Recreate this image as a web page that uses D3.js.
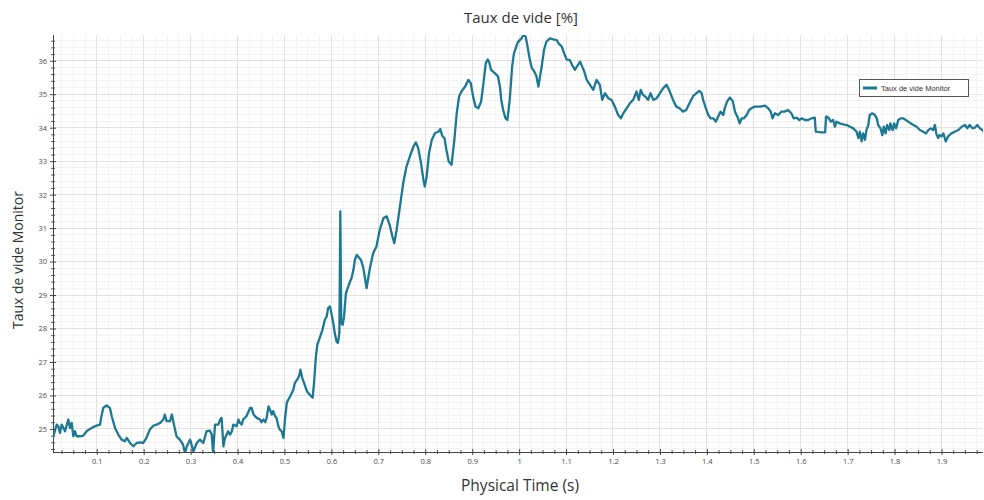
<!DOCTYPE html>
<html>
<head>
<meta charset="utf-8">
<script src="https://cdn.jsdelivr.net/npm/d3@7"></script>
<style>
  body { margin: 0; background: #fff; }
  svg { display: block; }
</style>
</head>
<body>
<svg id="chart" width="984" height="500"></svg>
<script>
// Monitored void fraction (%) against physical time (s)
const times = [
  0.007, 0.0147, 0.0182, 0.0217, 0.0253, 0.0324, 0.0395, 0.0430, 0.0466, 0.0501,
  0.0537, 0.0572, 0.0643, 0.0714, 0.0785, 0.0856, 0.0928, 0.0999, 0.107, 0.110,
  0.114, 0.121, 0.128, 0.132, 0.139, 0.146, 0.153, 0.160, 0.164, 0.171,
  0.178, 0.185, 0.192, 0.199, 0.206, 0.213, 0.221, 0.228, 0.235, 0.242,
  0.245, 0.249, 0.256, 0.260, 0.263, 0.270, 0.277, 0.284, 0.288, 0.292,
  0.299, 0.306, 0.313, 0.320, 0.327, 0.334, 0.341, 0.345, 0.348, 0.352,
  0.359, 0.363, 0.366, 0.370, 0.373, 0.377, 0.380, 0.384, 0.388, 0.391,
  0.398, 0.402, 0.405, 0.409, 0.412, 0.419, 0.427, 0.430, 0.434, 0.441,
  0.448, 0.451, 0.455, 0.459, 0.462, 0.466, 0.469, 0.473, 0.476, 0.480,
  0.483, 0.487, 0.490, 0.494, 0.498, 0.501, 0.505, 0.508, 0.512, 0.519,
  0.522, 0.527, 0.531, 0.534, 0.538, 0.543, 0.548, 0.554, 0.560, 0.563,
  0.567, 0.570, 0.576, 0.581, 0.586, 0.590, 0.593, 0.597, 0.600, 0.604,
  0.607, 0.611, 0.614, 0.617, 0.619, 0.621, 0.624, 0.627, 0.631, 0.636,
  0.640, 0.643, 0.647, 0.650, 0.654, 0.657, 0.660, 0.663, 0.668, 0.675,
  0.682, 0.689, 0.696, 0.703, 0.711, 0.718, 0.725, 0.730, 0.734, 0.739,
  0.746, 0.753, 0.760, 0.767, 0.775, 0.780, 0.785, 0.791, 0.796, 0.799,
  0.803, 0.808, 0.814, 0.821, 0.828, 0.832, 0.836, 0.841, 0.845, 0.850,
  0.856, 0.862, 0.867, 0.872, 0.877, 0.885, 0.892, 0.897, 0.902, 0.907,
  0.913, 0.919, 0.924, 0.929, 0.933, 0.936, 0.940, 0.945, 0.952, 0.955,
  0.959, 0.962, 0.966, 0.971, 0.975, 0.980, 0.985, 0.989, 0.997, 1.005,
  1.009, 1.014, 1.018, 1.023, 1.027, 1.030, 1.034, 1.037, 1.041, 1.044,
  1.048, 1.053, 1.058, 1.066, 1.073, 1.080, 1.084, 1.091, 1.096, 1.101,
  1.108, 1.113, 1.119, 1.125, 1.130, 1.133, 1.139, 1.144, 1.151, 1.158,
  1.165, 1.172, 1.177, 1.183, 1.190, 1.197, 1.204, 1.211, 1.217, 1.222,
  1.229, 1.236, 1.243, 1.250, 1.255, 1.259, 1.264, 1.269, 1.275, 1.280,
  1.286, 1.293, 1.300, 1.307, 1.314, 1.321, 1.328, 1.335, 1.342, 1.349,
  1.356, 1.363, 1.371, 1.378, 1.384, 1.389, 1.392, 1.398, 1.403, 1.408,
  1.414, 1.419, 1.424, 1.429, 1.435, 1.438, 1.443, 1.449, 1.455, 1.460,
  1.465, 1.470, 1.474, 1.479, 1.485, 1.490, 1.495, 1.502, 1.513, 1.524,
  1.531, 1.536, 1.540, 1.545, 1.552, 1.559, 1.566, 1.573, 1.580, 1.585,
  1.591, 1.597, 1.602, 1.609, 1.616, 1.623, 1.630, 1.632, 1.644, 1.652,
  1.654, 1.659, 1.664, 1.669, 1.673, 1.676, 1.683, 1.691, 1.698, 1.705,
  1.712, 1.719, 1.723, 1.726, 1.730, 1.733, 1.737, 1.740, 1.744, 1.747,
  1.753, 1.758, 1.762, 1.765, 1.770, 1.774, 1.777, 1.781, 1.784, 1.789,
  1.791, 1.796, 1.799, 1.803, 1.808, 1.813, 1.818, 1.824, 1.829, 1.834,
  1.840, 1.847, 1.854, 1.861, 1.867, 1.872, 1.877, 1.882, 1.886, 1.889,
  1.893, 1.896, 1.900, 1.904, 1.909, 1.914, 1.921, 1.928, 1.936, 1.943,
  1.950, 1.955, 1.960, 1.966, 1.971, 1.976, 1.982, 1.987, 1.990
];

const voidRate = [
  24.75, 25.13, 25.08, 24.88, 25.13, 24.93, 25.28, 25.03, 25.18, 24.78,
  24.93, 24.78, 24.78, 24.80, 24.93, 25.00, 25.06, 25.10, 25.13, 25.38,
  25.63, 25.70, 25.63, 25.38, 25.03, 24.83, 24.68, 24.63, 24.73, 24.58,
  24.48, 24.58, 24.60, 24.58, 24.73, 24.98, 25.10, 25.13, 25.18, 25.28,
  25.43, 25.23, 25.23, 25.43, 25.23, 24.78, 24.68, 24.53, 24.28, 24.48,
  24.68, 24.33, 24.58, 24.68, 24.58, 24.93, 24.95, 24.83, 24.28, 25.13,
  25.13, 25.28, 25.33, 24.48, 24.73, 24.83, 24.93, 24.83, 24.93, 25.13,
  25.08, 25.28, 25.18, 25.13, 25.28, 25.38, 25.63, 25.63, 25.43, 25.33,
  25.28, 25.20, 25.28, 25.20, 25.33, 25.67, 25.58, 25.43, 25.53, 25.38,
  25.33, 25.08, 24.98, 24.93, 24.73, 25.28, 25.78, 25.87, 25.97, 26.17,
  26.37, 26.47, 26.57, 26.77, 26.52, 26.32, 26.12, 26.02, 25.93, 26.37,
  27.17, 27.52, 27.76, 27.96, 28.26, 28.36, 28.61, 28.66, 28.46, 28.16,
  27.87, 27.61, 27.57, 27.87, 31.50, 28.16, 28.11, 28.36, 29.06, 29.26,
  29.41, 29.51, 29.76, 30.05, 30.20, 30.15, 30.10, 30.05, 29.81, 29.21,
  29.80, 30.25, 30.45, 30.95, 31.30, 31.35, 31.05, 30.75, 30.55, 30.95,
  31.64, 32.34, 32.84, 33.14, 33.44, 33.56, 33.39, 32.94, 32.44, 32.24,
  32.54, 33.24, 33.64, 33.84, 33.88, 33.96, 33.76, 33.69, 33.34, 32.99,
  32.89, 33.64, 34.43, 34.93, 35.08, 35.23, 35.43, 35.33, 34.93, 34.63,
  34.58, 34.78, 35.33, 35.93, 36.04, 35.97, 35.73, 35.67, 35.58, 35.53,
  35.23, 34.83, 34.53, 34.28, 34.23, 34.83, 35.82, 36.22, 36.55, 36.67,
  36.77, 36.72, 36.42, 36.02, 35.78, 35.73, 35.63, 35.53, 35.23, 35.48,
  35.82, 36.32, 36.57, 36.67, 36.64, 36.62, 36.52, 36.42, 36.22, 36.04,
  36.02, 35.87, 35.73, 35.87, 35.97, 35.87, 35.67, 35.43, 35.28, 35.13,
  35.43, 35.28, 34.83, 35.03, 34.88, 34.83, 34.63, 34.38, 34.28, 34.43,
  34.58, 34.73, 34.83, 35.08, 34.83, 35.13, 34.98, 34.93, 34.83, 35.03,
  34.83, 34.88, 35.03, 35.18, 35.28, 35.08, 34.83, 34.63, 34.58, 34.48,
  34.53, 34.73, 34.95, 35.03, 35.10, 35.03, 34.83, 34.58, 34.38, 34.28,
  34.28, 34.18, 34.33, 34.48, 34.38, 34.58, 34.78, 34.90, 34.80, 34.48,
  34.33, 34.13, 34.28, 34.28, 34.38, 34.53, 34.58, 34.63, 34.63, 34.66,
  34.58, 34.48, 34.28, 34.43, 34.38, 34.48, 34.48, 34.53, 34.43, 34.28,
  34.30, 34.23, 34.28, 34.23, 34.23, 34.28, 34.30, 33.88, 33.86, 33.86,
  34.33, 34.30, 34.18, 34.23, 34.03, 34.18, 34.13, 34.10, 34.08, 34.03,
  33.98, 33.88, 33.69, 33.88, 33.59, 33.83, 33.64, 33.93, 34.08, 34.38,
  34.43, 34.38, 34.28, 34.08, 33.98, 33.78, 34.03, 33.83, 34.08, 33.93,
  34.13, 33.93, 34.13, 33.98, 34.23, 34.28, 34.28, 34.23, 34.18, 34.13,
  34.08, 34.03, 33.93, 33.88, 33.83, 33.93, 33.98, 33.93, 34.08, 33.81,
  33.69, 33.78, 33.74, 33.83, 33.59, 33.74, 33.83, 33.88, 33.93, 34.03,
  34.08, 33.98, 34.08, 33.98, 34.00, 34.08, 33.98, 33.93, 33.88
];

const xTickValues = [0.1, 0.2, 0.3, 0.4, 0.5, 0.6, 0.7, 0.8, 0.9, 1.0,
                     1.1, 1.2, 1.3, 1.4, 1.5, 1.6, 1.7, 1.8, 1.9];
const xTickLabels = ["0.1", "0.2", "0.3", "0.4", "0.5", "0.6", "0.7", "0.8", "0.9", "1",
                     "1.1", "1.2", "1.3", "1.4", "1.5", "1.6", "1.7", "1.8", "1.9"];
const yTickValues = [25, 26, 27, 28, 29, 30, 31, 32, 33, 34, 35, 36];
const yTickLabels = ["25", "26", "27", "28", "29", "30", "31", "32", "33", "34", "35", "36"];

const chartTitle = "Taux de vide [%]";
const xTitle = "Physical Time (s)";
const yTitle = "Taux de vide Monitor";
const seriesName = "Taux de vide Monitor";

// ---- layout ----
const plot = { left: 53, right: 983, top: 35, bottom: 452 };
const lineColor = "#1c7893";

const x = d3.scaleLinear().domain([0.0068, 1.9884]).range([plot.left, plot.right]);
const y = d3.scaleLinear().domain([24.31, 36.77]).range([plot.bottom, plot.top]);

const svg = d3.select("#chart");
svg.append("rect").attr("width", 984).attr("height", 500).attr("fill", "#fff");

svg.append("defs").append("clipPath").attr("id", "plot-clip")
  .append("rect")
  .attr("x", plot.left).attr("y", plot.top)
  .attr("width", plot.right - plot.left).attr("height", plot.bottom - plot.top);

// minor grid: every 0.025 s and every 0.2 %
const xMinor = d3.range(1, 80).map(i => +(i * 0.025).toFixed(3)).filter(v => Math.round(v * 1000) % 100 !== 0);
const yMinor = d3.range(122, 184).map(i => +(i * 0.2).toFixed(1)).filter(v => Math.abs(v - Math.round(v)) > 1e-6);

const grid = svg.append("g");
grid.selectAll("line.xm").data(xMinor).join("line")
  .attr("x1", d => x(d)).attr("x2", d => x(d))
  .attr("y1", plot.top).attr("y2", plot.bottom)
  .attr("stroke", "#f3f3f3").attr("stroke-width", 1).attr("shape-rendering", "crispEdges");
grid.selectAll("line.ym").data(yMinor).join("line")
  .attr("x1", plot.left).attr("x2", plot.right)
  .attr("y1", d => y(d)).attr("y2", d => y(d))
  .attr("stroke", "#f3f3f3").attr("stroke-width", 1).attr("shape-rendering", "crispEdges");
grid.selectAll("line.xM").data(xTickValues).join("line")
  .attr("x1", d => x(d)).attr("x2", d => x(d))
  .attr("y1", plot.top).attr("y2", plot.bottom)
  .attr("stroke", "#e2e2e2").attr("stroke-width", 1).attr("shape-rendering", "crispEdges");
grid.selectAll("line.yM").data(yTickValues).join("line")
  .attr("x1", plot.left).attr("x2", plot.right)
  .attr("y1", d => y(d)).attr("y2", d => y(d))
  .attr("stroke", "#e2e2e2").attr("stroke-width", 1).attr("shape-rendering", "crispEdges");

// ---- axes ----
const tickFont = "'Open Sans', 'DejaVu Sans', sans-serif";

function styleAxis(g) {
  g.select(".domain").attr("stroke", "#444").attr("stroke-width", 1);
  g.selectAll(".tick line").attr("stroke", "#444").attr("stroke-width", 1);
  g.selectAll("text").attr("fill", "#4a4a4a").attr("font-size", "7.5px").attr("font-family", tickFont);
}

// bottom: minor ticks then major ticks with labels
const xMinorAxis = svg.append("g").attr("transform", `translate(0,${plot.bottom})`)
  .call(d3.axisBottom(x).tickValues(xMinor).tickSize(2).tickFormat(""));
xMinorAxis.select(".domain").remove();
xMinorAxis.selectAll(".tick line").attr("y1", -2).attr("stroke", "#555");

const xAxis = svg.append("g").attr("transform", `translate(0,${plot.bottom})`)
  .call(d3.axisBottom(x).tickValues(xTickValues).tickSize(3).tickPadding(4)
    .tickFormat((d, i) => xTickLabels[i]));
styleAxis(xAxis);
xAxis.selectAll(".tick line").attr("y1", -3);
xAxis.select(".domain").attr("d", `M${plot.left},0.5H${plot.right}`);

const yMinorAxis = svg.append("g").attr("transform", `translate(${plot.left},0)`)
  .call(d3.axisLeft(y).tickValues(yMinor).tickSize(2).tickFormat(""));
yMinorAxis.select(".domain").remove();
yMinorAxis.selectAll(".tick line").attr("x1", 2).attr("stroke", "#555");

const yAxis = svg.append("g").attr("transform", `translate(${plot.left},0)`)
  .call(d3.axisLeft(y).tickValues(yTickValues).tickSize(3).tickPadding(3)
    .tickFormat((d, i) => yTickLabels[i]));
styleAxis(yAxis);
yAxis.selectAll(".tick line").attr("x1", 3);
yAxis.select(".domain").attr("d", `M0.5,${plot.top}V${plot.bottom}`);

// ---- series ----
const points = times.map((t, i) => ({ t, v: voidRate[i] }));
const line = d3.line().x(d => x(d.t)).y(d => y(d.v));

svg.append("path")
  .datum(points)
  .attr("clip-path", "url(#plot-clip)")
  .attr("d", line)
  .attr("fill", "none")
  .attr("stroke", lineColor)
  .attr("stroke-width", 2.3)
  .attr("stroke-linejoin", "round")
  .attr("stroke-linecap", "round");

// ---- titles ----
const textFont = "'Open Sans', 'DejaVu Sans', sans-serif";
svg.append("text").attr("x", 521).attr("y", 23).attr("text-anchor", "middle")
  .attr("font-family", textFont).attr("font-size", "15px").attr("fill", "#333")
  .text(chartTitle);

svg.append("text").attr("x", 520).attr("y", 491).attr("text-anchor", "middle")
  .attr("font-family", textFont).attr("font-size", "15.5px").attr("fill", "#333")
  .text(xTitle);

svg.append("text").attr("transform", "translate(23,260) rotate(-90)").attr("text-anchor", "middle")
  .attr("font-family", textFont).attr("font-size", "14px").attr("fill", "#333")
  .text(yTitle);

// ---- legend ----
const legend = svg.append("g").attr("transform", "translate(859,79)");
legend.append("rect").attr("x", 0.5).attr("y", 0.5).attr("width", 109).attr("height", 17)
  .attr("fill", "#fff").attr("stroke", "#555").attr("stroke-width", 1);
legend.append("line").attr("x1", 4).attr("x2", 18).attr("y1", 9).attr("y2", 9)
  .attr("stroke", lineColor).attr("stroke-width", 3);
legend.append("text").attr("x", 22).attr("y", 11.5)
  .attr("font-family", "'Liberation Sans', Arial, sans-serif").attr("font-size", "7.5px").attr("fill", "#333")
  .text(seriesName);
</script>
</body>
</html>
